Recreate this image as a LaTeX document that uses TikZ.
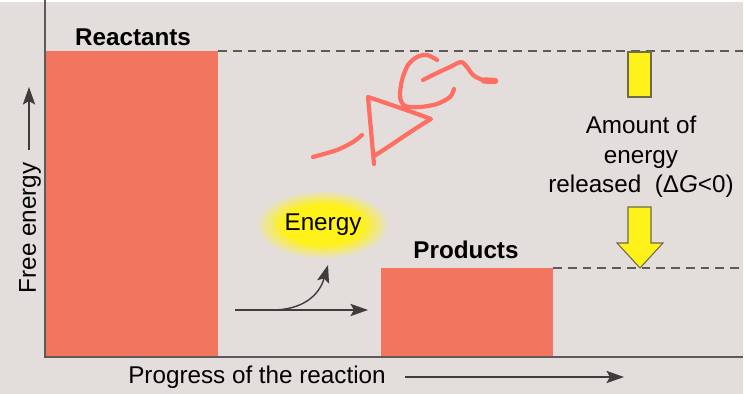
\documentclass[tikz,border=0pt]{standalone}
\usepackage{fontspec}
\setmainfont{Liberation Sans}
\usepackage{xcolor}
\usepackage{tikz}
\usetikzlibrary{arrows.meta, positioning, calc}

\definecolor{paper}{HTML}{E3DEDC}
\definecolor{barred}{HTML}{F2755F}
\definecolor{inkred}{HTML}{FF6E62}
\definecolor{glowyel}{HTML}{FFF21A}
\definecolor{axisgray}{HTML}{5E5A5A}
\definecolor{arrowgray}{HTML}{3F3C3C}

\begin{document}
\begin{tikzpicture}[x=0.02cm, y=-0.02cm,
    txt/.style={font=\fontsize{13.8}{16.8}\selectfont, inner sep=0pt},
    bartitle/.style={txt, font=\fontsize{13.8}{16.8}\selectfont\bfseries},
    levelline/.style={axisgray, line width=1pt, dash pattern=on 5pt off 3.4pt},
    ink/.style={inkred, line width=2.4pt, line cap=round, line join=round},
    thin arrow/.style={-{Stealth[length=10pt, width=7pt, inset=2pt]}, arrowgray, line width=0.8pt},
    yelbox/.style={fill=glowyel, draw=black!65!yellow, line width=0.6pt}]
  \useasboundingbox (0,0) rectangle (746,394);
  \fill[paper] (0,2) rectangle (743,394);

  % Bars
  \fill[barred] (46,51) rectangle (218,357);
  \fill[barred] (381,268) rectangle (553,357);
  \node[bartitle] (reac) at (133,37) {Reactants};
  \node[bartitle] (prod) at (466,250) {Products};

  % Energy levels
  \draw[levelline] (218,51) -- (743,51);
  \draw[levelline] (553,268) -- (743,268);

  % Axes
  \draw[axisgray, line width=1.1pt] (45,0) -- (45,357) -- (743,357);
  \node[txt, rotate=90] (fe) at (30,228) {Free energy};
  \coordinate (feTip) at (29,87);
  \draw[thin arrow] (fe.east) ++(-1,-12) -- (feTip);
  \node[txt] (prog) at (257,377) {Progress of the reaction};
  \coordinate (progTip) at (624,377);
  \draw[thin arrow] (prog.east) ++(19,0) -- (progTip);

  % Energy glow
  \foreach \k in {1,...,12} {
    \pgfmathsetmacro{\pc}{min(100,9*\k)}
    \fill[glowyel!\pc!paper] (323,225) ellipse [x radius={68-2.4*\k}, y radius={35-1.3*\k}];
  }
  \node[txt] (en) at (323,225) {Energy};

  % Reaction arrows
  \coordinate (rxStart) at (235,310);
  \coordinate (rxEnd) at (368,310);
  \coordinate (enTip) at (328,265);
  \draw[thin arrow] (rxStart) -- (rxEnd);
  \draw[thin arrow] (272,310) .. controls (302,310) and (319,296) .. (enTip);

  % Released energy
  \draw[yelbox] (628,52) rectangle (651,97);
  \draw[yelbox]
      (628,207) -- (651,207) -- (651,243) -- (663,243) -- (640,268)
      -- (617,243) -- (628,243) -- cycle;
  \node[txt, align=center] (amt) at (641,157)
      {Amount of\\energy\\released\ \ (Δ\textit{G}<0)};

  % Hand-written -DG
  \draw[ink] plot[smooth] coordinates {(313,157) (337,150) (353,142) (362,135)};
  \draw[ink] (374,164) -- (368,97) .. controls (395,106) and (415,113) .. (431,119)
      .. controls (412,130) and (392,145) .. (374,156);
  \draw[ink] plot[smooth] coordinates {(437,60) (427,55) (417,57) (408,65) (402,80)
      (400,97) (405,106) (420,107) (437,104) (450,97) (454,89)};
  \draw[ink] plot[smooth] coordinates {(423,80) (437,73) (450,67) (461,62) (467,67)
      (473,75) (483,80) (496,81)};
  \draw[ink, line width=3.6pt] (484,80.5) -- (495,81);
\end{tikzpicture}
\end{document}
